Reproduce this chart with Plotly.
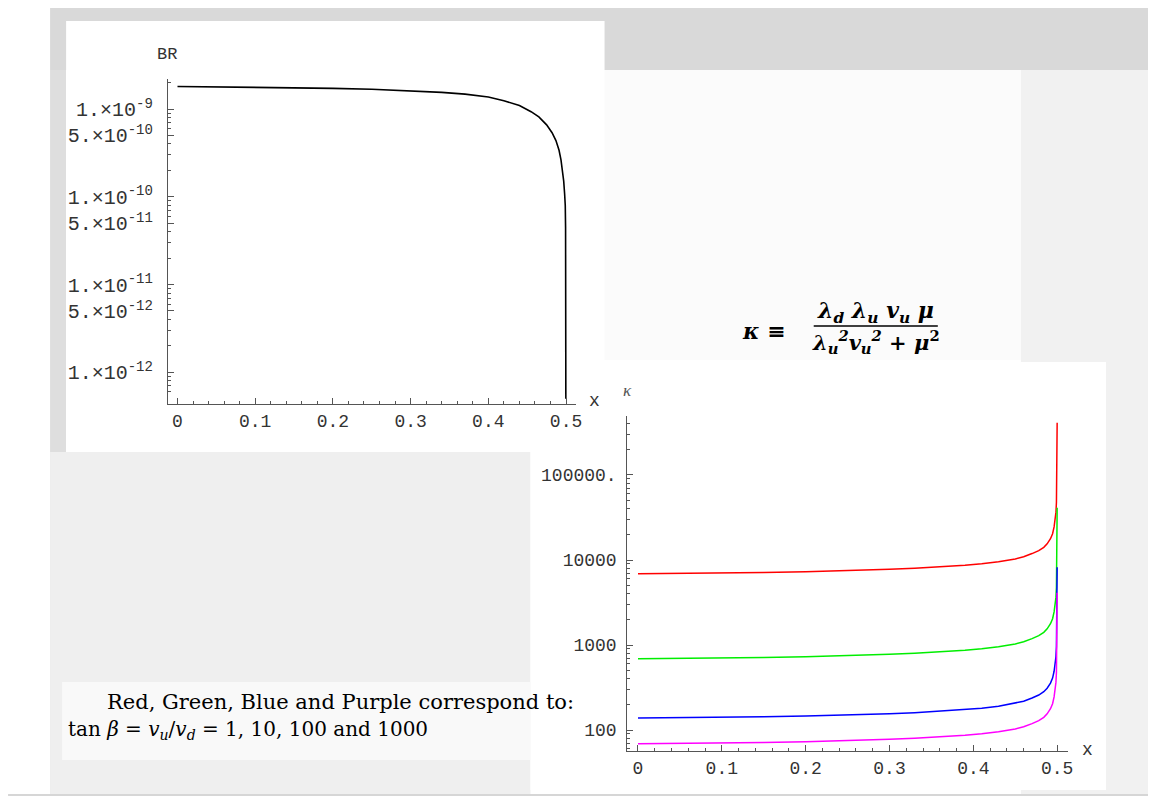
import plotly.graph_objects as go

# The page body keeps the browser's default 8 px margin; the photographed
# window is slightly wider in layout pixels than the final picture, so slide
# positions (given in picture pixels) are mapped through OFF and SX.
OFF = 8
SX = 1164 / 1156
W, H = 1156, 788

# ---------------- data ----------------
# Top panel: branching ratio vs x
x_br = [0, 0.1, 0.2, 0.25, 0.3, 0.34, 0.37, 0.4, 0.42, 0.44, 0.455, 0.465,
        0.475, 0.482, 0.487, 0.491, 0.4935, 0.4955, 0.497, 0.4982, 0.499,
        0.4994, 0.4996, 0.49968, 0.49975]
br = [1.807e-9, 1.778e-9, 1.722e-9, 1.679e-9, 1.614e-9, 1.549e-9, 1.479e-9,
      1.374e-9, 1.245e-9, 1.096e-9, 9.33e-10, 8.13e-10, 6.61e-10, 5.37e-10,
      4.37e-10, 3.39e-10, 2.63e-10, 2.00e-10, 1.51e-10, 1.07e-10, 7.94e-11,
      4.47e-11, 1.26e-11, 2.51e-12, 5.0e-13]

# Bottom panel: kappa vs x for tan(beta) = 1, 10, 100, 1000
x_k = [0, 0.05, 0.1, 0.15, 0.2, 0.25, 0.3, 0.33, 0.36, 0.39, 0.41, 0.43, 0.45,
       0.46, 0.47, 0.478, 0.484, 0.488, 0.492, 0.4945, 0.4963, 0.4975, 0.4985,
       0.4991, 0.4995, 0.49995]
kappa_red = [6900, 6950, 7030, 7130, 7280, 7480, 7760, 8000, 8280, 8650, 9020,
             9510, 10300, 10900, 11900, 12900, 14100, 15500, 17800, 20400,
             24500, 29500, 36300, 47900, 95500, 412000]
kappa_green = [690, 695, 703, 713, 728, 748, 776, 800, 828, 865, 902, 951,
               1030, 1090, 1190, 1290, 1410, 1550, 1780, 2040, 2450, 2950,
               3630, 4790, 9550, 41200]
kappa_blue = [138, 139, 141, 143, 146, 150, 155, 160, 166, 173, 180, 190, 206,
              218, 238, 258, 282, 310, 356, 408, 491, 590, 726, 958, 1910, 8240]
kappa_purple = [69, 69.5, 70.3, 71.3, 72.8, 74.8, 77.6, 80.0, 82.8, 86.5, 90.2,
                95.1, 103, 109, 119, 129, 141, 155, 178, 204, 245, 295, 363,
                479, 955, 4120]

x_tickvals = [0, 0.1, 0.2, 0.3, 0.4, 0.5]
x_ticktext = ["0", "0.1", "0.2", "0.3", "0.4", "0.5"]
br_tickvals = [1e-12, 5e-12, 1e-11, 5e-11, 1e-10, 5e-10, 1e-9]
br_ticktext = ["1.×10<sup>-12</sup>", "5.×10<sup>-12</sup>",
               "1.×10<sup>-11</sup>", "5.×10<sup>-11</sup>",
               "1.×10<sup>-10</sup>", "5.×10<sup>-10</sup>",
               "1.×10<sup>-9</sup>"]
k_tickvals = [100, 1000, 10000, 100000]
k_ticktext = ["100", "1000", "10000", "100000."]

# ---------------- helpers ----------------
def fx(p):
    return (p * SX - OFF) / W

def fy(p):
    return 1 - (p - OFF) / H

MONO = "Liberation Mono"
SERIF = "DejaVu Serif"
AX = "#555555"
TXT = "#333333"

br_minor = [m * 10 ** e for e in range(-13, -8) for m in (2, 3, 4, 6, 7, 8, 9)]
k_minor = [m * 10 ** e for e in range(1, 6) for m in (2, 3, 4, 5, 6, 7, 8, 9)]

fig = go.Figure()

fig.add_trace(go.Scatter(x=x_br, y=br, mode="lines",
                         line=dict(color="black", width=1.6),
                         xaxis="x", yaxis="y", showlegend=False))

for vals, col in [(kappa_red, "#ff0000"), (kappa_green, "#00ee00"),
                  (kappa_blue, "#0000ff"), (kappa_purple, "#ff00ff")]:
    fig.add_trace(go.Scatter(x=x_k, y=vals, mode="lines",
                             line=dict(color=col, width=1.5),
                             xaxis="x2", yaxis="y2", showlegend=False))

common_x = dict(showgrid=False, zeroline=False, showline=True, linecolor=AX,
                linewidth=1, ticks="inside", ticklen=6, tickcolor=AX,
                tickvals=x_tickvals, ticktext=x_ticktext,
                tickfont=dict(family=MONO, size=18, color=TXT),
                ticklabelstandoff=0,
                minor=dict(ticks="inside", ticklen=3, tickcolor=AX,
                           dtick=0.02, tick0=0, showgrid=False))

fig.update_layout(
    width=W, height=H, autosize=False,
    margin=dict(l=0, r=0, t=0, b=0),
    paper_bgcolor="white", plot_bgcolor="rgba(0,0,0,0)",
    xaxis=dict(domain=[fx(167.7), fx(575)], range=[-0.01236, 0.5122],
               anchor="y", **common_x),
    yaxis=dict(domain=[fy(404.3), fy(79.3)], type="log",
               range=[-12.365, -8.661], anchor="x",
               showgrid=False, zeroline=False, showline=True, linecolor=AX,
               linewidth=1, ticks="inside", ticklen=6, tickcolor=AX,
               tickvals=br_tickvals, ticktext=br_ticktext,
               tickfont=dict(family=MONO, size=20, color=TXT),
               ticklabelstandoff=10,
               minor=dict(ticks="inside", ticklen=3, tickcolor=AX,
                          tickvals=br_minor, showgrid=False)),
    xaxis2=dict(domain=[fx(626.7), fx(1067)], range=[-0.01277, 0.5128],
                anchor="y2", **common_x),
    yaxis2=dict(domain=[fy(751), fy(416)], type="log",
                range=[1.753, 5.694], anchor="x2",
                showgrid=False, zeroline=False, showline=True, linecolor=AX,
                linewidth=1, ticks="inside", ticklen=6, tickcolor=AX,
                tickvals=k_tickvals, ticktext=k_ticktext,
                tickfont=dict(family=MONO, size=18, color=TXT),
                ticklabelstandoff=6,
                minor=dict(ticks="inside", ticklen=3, tickcolor=AX,
                           tickvals=k_minor, showgrid=False)),
)

# ---------------- slide background ----------------
def rect(x0, y0, x1, y1, fill, line=None):
    return dict(type="rect", xref="paper", yref="paper", layer="below",
                x0=fx(x0), x1=fx(x1), y0=fy(y1), y1=fy(y0),
                fillcolor=fill, line=dict(width=0) if line is None else line)

def line(x0, y0, x1, y1, color, width):
    return dict(type="line", xref="paper", yref="paper", x0=fx(x0), x1=fx(x1),
                y0=fy(y0), y1=fy(y1), line=dict(color=color, width=width))

shapes = [
    rect(50, 8, 1154, 70, "#d9d9d9"),
    rect(50, 70, 66, 794, "#dedede"),
    rect(50, 452, 530, 794, "#efefef"),
    rect(1020, 70, 1154, 794, "#f1f1f1"),
    rect(66, 21, 604, 452, "white"),
    rect(604, 70, 1020, 360, "#fbfbfb"),
    rect(530, 362, 1105, 790, "white"),
    rect(62, 682, 530, 760, "#f9f9f9"),
    line(1155, 8, 1155, 795, "#c8c8c8", 1.5),
    line(8, 795, 1155, 795, "#c8c8c8", 1.5),
    # fraction bar of the kappa definition
    line(813, 326, 937, 326, "black", 1.6),
]
fig.update_layout(shapes=shapes)

def ann(text, x, y, xa="center", ya="middle", font=None):
    return dict(text=text, x=fx(x), y=fy(y), xref="paper", yref="paper",
                xanchor=xa, yanchor=ya, showarrow=False, font=font)

anns = [
    ann("BR", 167, 54, font=dict(family=MONO, size=17, color=TXT)),
    ann("x", 594, 401, font=dict(family=MONO, size=18, color=TXT)),
    ann("<i>κ</i>", 627, 390, font=dict(family="Liberation Serif", size=17, color="#555")),
    ann("x", 1087, 750, font=dict(family=MONO, size=18, color=TXT)),
    ann("<b><i>κ</i> ≡</b>", 739, 331, xa="left",
        font=dict(family=SERIF, size=22, color="black")),
    ann("<b><i>λ<sub>d</sub> λ<sub>u</sub> v<sub>u</sub> μ</i></b>", 875, 312,
        font=dict(family=SERIF, size=22, color="black")),
    ann("<b><i>λ<sub>u</sub><sup>2</sup>v<sub>u</sub><sup>2</sup></i> + <i>μ</i><sup>2</sup></b>",
        875, 342, font=dict(family=SERIF, size=21, color="black")),
    ann("Red, Green, Blue and Purple correspond to:", 105, 702, xa="left",
        font=dict(family=SERIF, size=21, color="black")),
    ann("tan <i>β</i> = <i>v<sub>u</sub></i>/<i>v<sub>d</sub></i> = 1, 10, 100 and 1000",
        66, 730, xa="left", font=dict(family=SERIF, size=20, color="black")),
]
fig.update_layout(annotations=anns)

fig.write_html("out.html", config={"displayModeBar": False})
